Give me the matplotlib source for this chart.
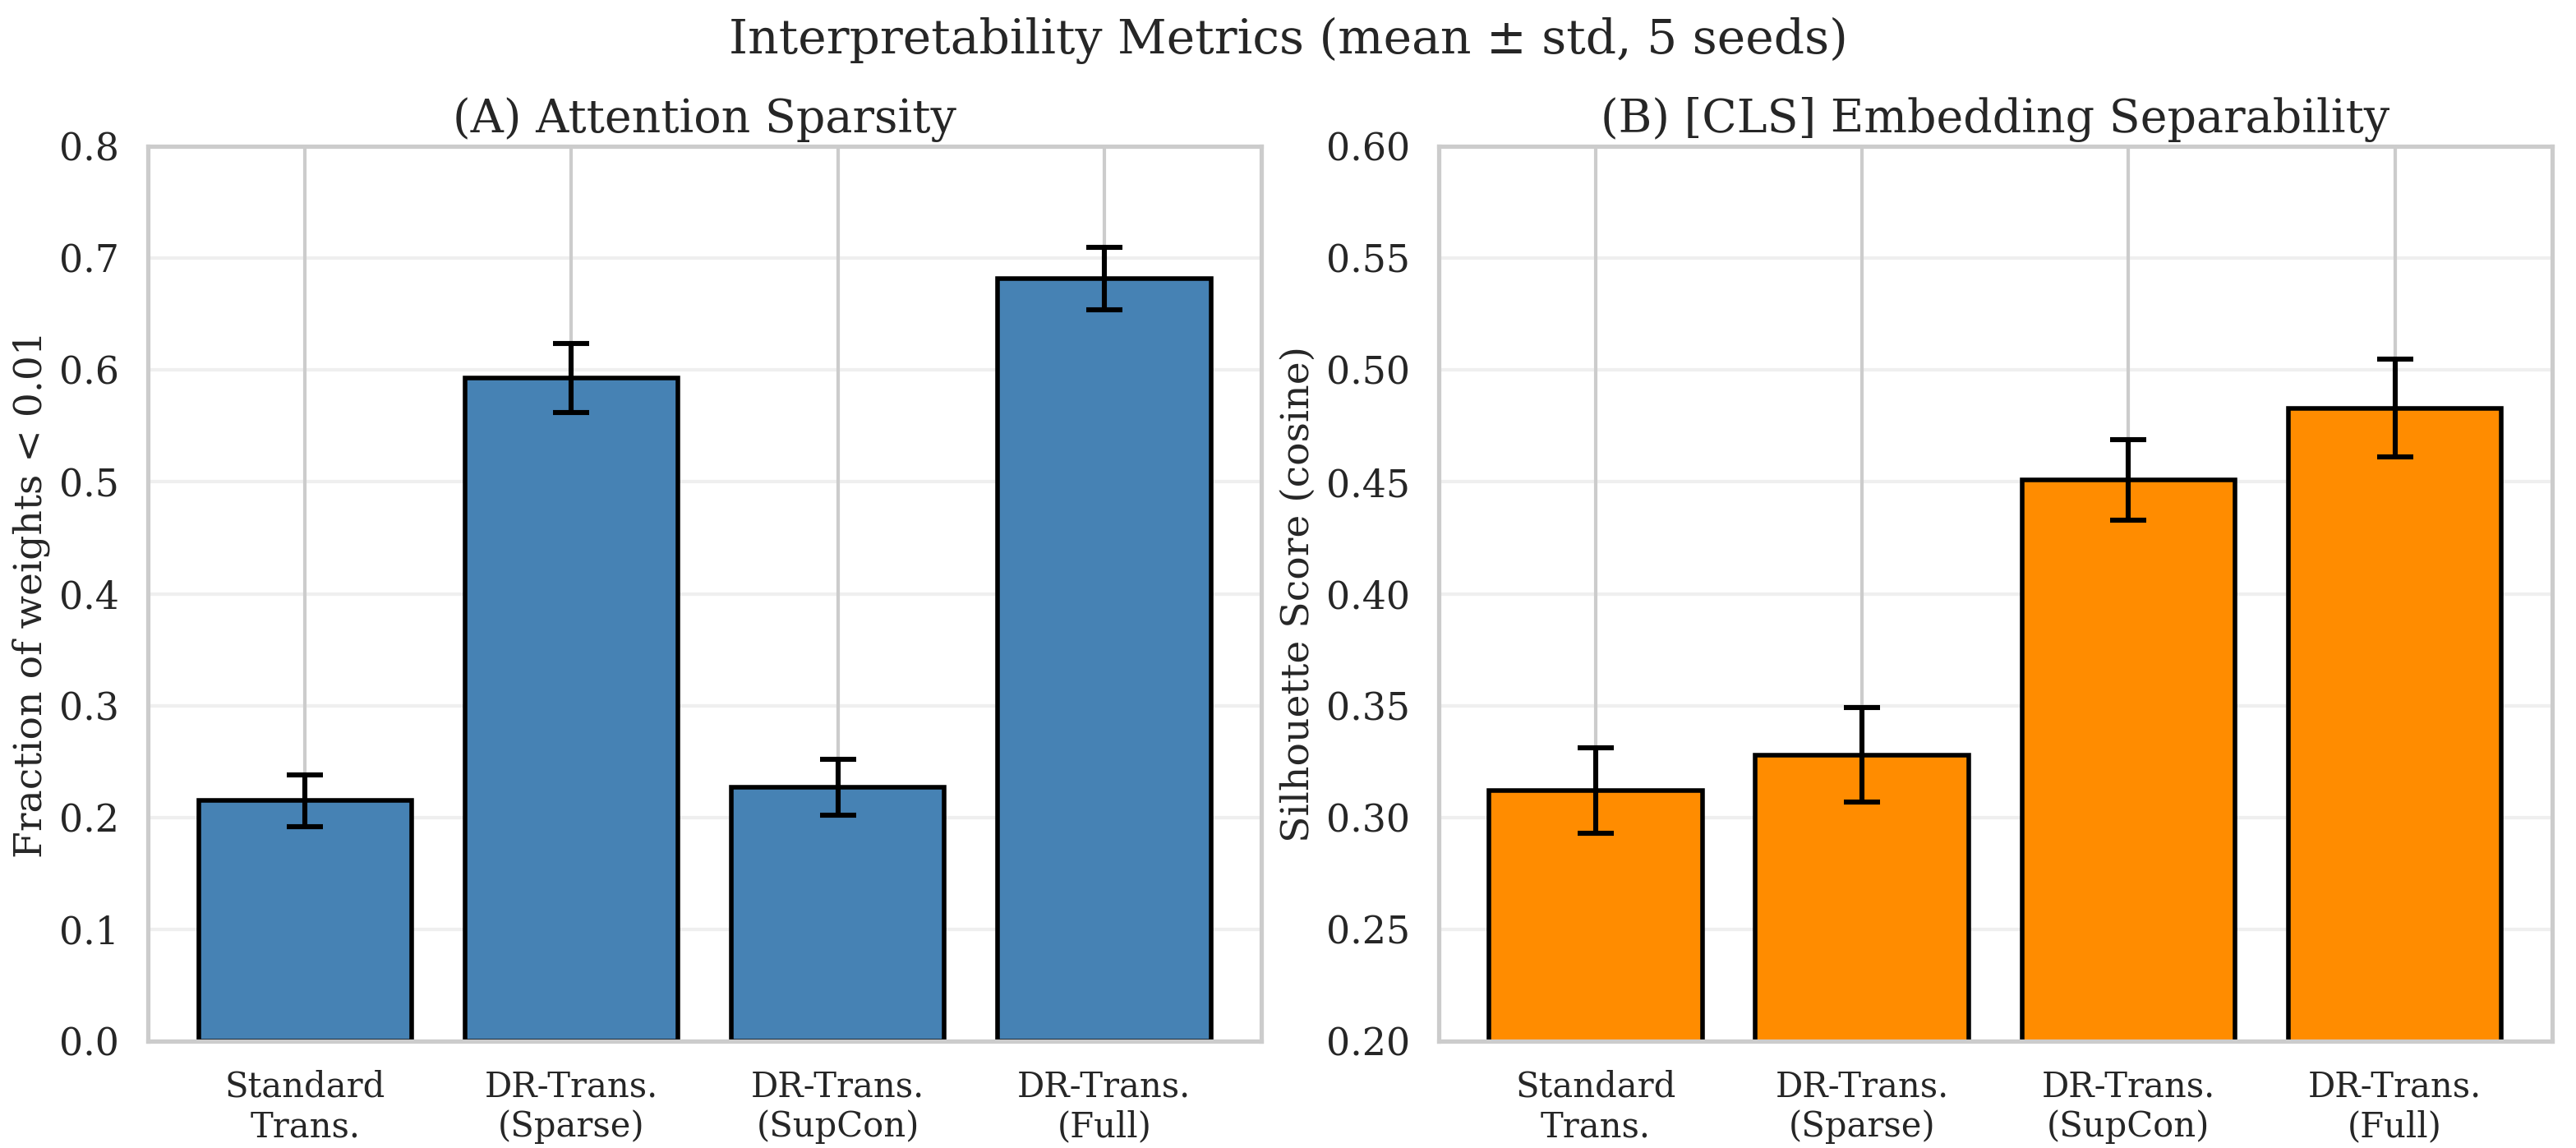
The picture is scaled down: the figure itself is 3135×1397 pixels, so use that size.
import matplotlib
matplotlib.use("Agg")
import matplotlib.pyplot as plt
import seaborn as sns

sns.set_theme(style="whitegrid", context="talk")
plt.rcParams["font.family"] = ["DejaVu Serif"]

# data
models = ["Standard\nTrans.", "DR-Trans.\n(Sparse)", "DR-Trans.\n(SupCon)", "DR-Trans.\n(Full)"]
sparsity_mean = [0.215, 0.593, 0.227, 0.682]
sparsity_std = [0.023, 0.031, 0.025, 0.028]
silhouette_mean = [0.312, 0.328, 0.451, 0.483]
silhouette_std = [0.019, 0.021, 0.018, 0.022]

fig, axes = plt.subplots(1, 2, figsize=(15.675, 6.985), dpi=200)
fig.subplots_adjust(left=0.0574, right=0.9907, bottom=0.093, top=0.8726, wspace=0.159)

x = list(range(len(models)))

# (A) attention sparsity
ax = axes[0]
ax.bar(x, sparsity_mean, yerr=sparsity_std, width=0.8, color="steelblue",
       edgecolor="black", linewidth=2,
       error_kw=dict(capsize=8, capthick=2.2, elinewidth=2.2, ecolor="black"))
ax.set_xticks(x)
ax.set_xticklabels(models, fontsize=15)
ax.set_ylim(0, 0.8)
ax.set_ylabel("Fraction of weights < 0.01", fontsize=17)
ax.set_title("(A) Attention Sparsity", fontsize=20)
ax.grid(axis="y", alpha=0.3)

# (B) [CLS] separability
ax = axes[1]
ax.bar(x, silhouette_mean, yerr=silhouette_std, width=0.8, color="darkorange",
       edgecolor="black", linewidth=2,
       error_kw=dict(capsize=8, capthick=2.2, elinewidth=2.2, ecolor="black"))
ax.set_xticks(x)
ax.set_xticklabels(models, fontsize=15)
ax.set_ylim(0.2, 0.6)
ax.set_ylabel("Silhouette Score (cosine)", fontsize=17)
ax.set_title("(B) [CLS] Embedding Separability", fontsize=20)
ax.grid(axis="y", alpha=0.3)

fig.suptitle("Interpretability Metrics (mean ± std, 5 seeds)", fontsize=21, y=0.985)

plt.savefig("out.png", dpi=200)
